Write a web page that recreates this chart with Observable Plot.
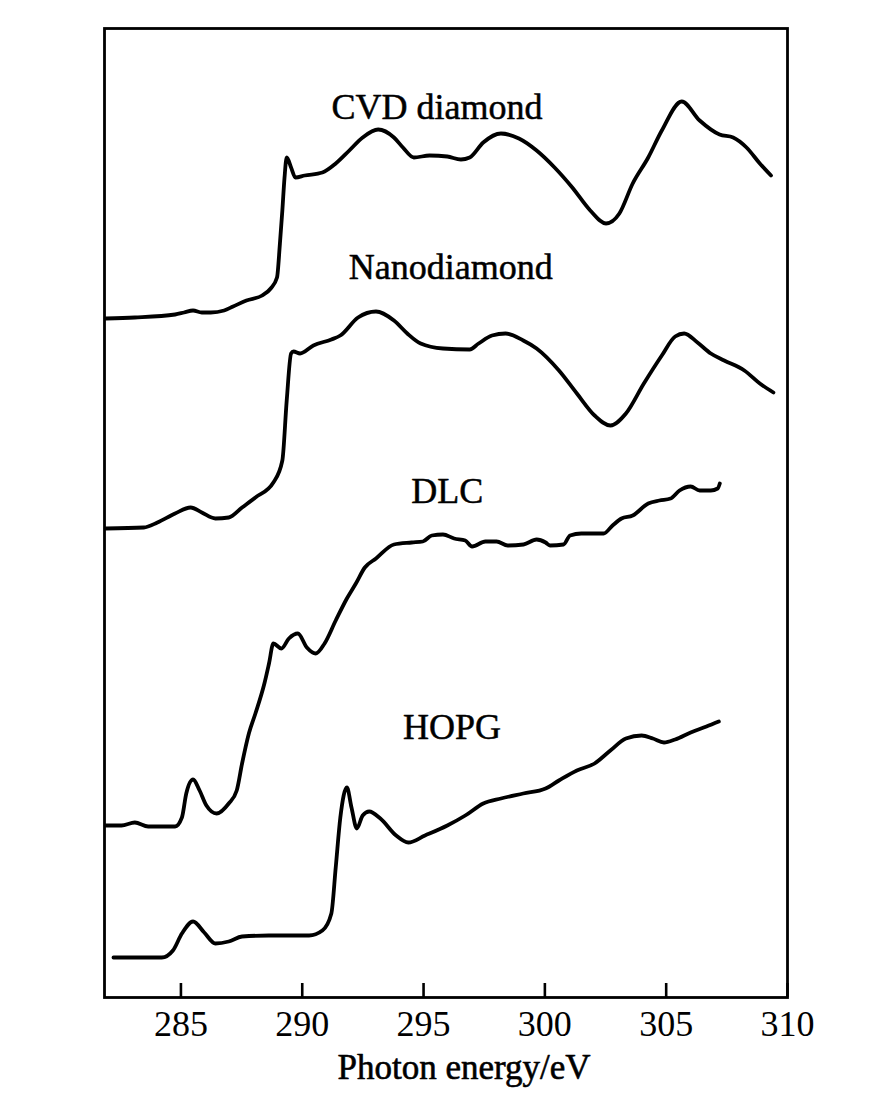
<!DOCTYPE html>
<html>
<head>
<meta charset="utf-8">
<script src="https://cdn.jsdelivr.net/npm/d3@7"></script>
<script src="https://cdn.jsdelivr.net/npm/@observablehq/plot@0.6"></script>
<style>
  html, body { margin: 0; padding: 0; background: #fff; }
  #chart { width: 895px; height: 1110px; }
</style>
</head>
<body>
<div id="chart"></div>
<script>
// x-axis tick labels (photon energy, eV)
const energyTicks = [285, 290, 295, 300, 305, 310];
const axisTitle = "Photon energy/eV";

// spectrum names
const seriesNames = ["CVD diamond", "Nanodiamond", "DLC", "HOPG"];

// CVD diamond spectrum (offset, arbitrary units)
const cvdEnergy = [281.9,283.1,284.76,285.13,285.5,285.86,286.23,286.78,287.15,287.7,288.35,288.7,288.96,289.08,289.18,289.27,289.36,289.54,289.72,290.1,290.83,291.38,291.94,292.49,293.13,293.78,294.15,294.6,295.25,295.98,296.54,296.9,297.46,298.19,298.93,299.66,300.4,301.13,301.87,302.52,303.07,303.62,304.26,304.82,305.64,306.38,307.2,307.76,308.31,308.86,309.32];
const cvdIntensity = [67.9,68.0,68.3,68.5,68.7,68.5,68.5,68.7,69.1,69.7,70.2,70.9,72.0,75.4,78.7,82.0,84.0,83.0,82.0,82.2,82.5,83.4,84.7,86.0,86.8,86.0,85.0,84.0,84.2,84.1,83.8,84.0,85.5,86.4,85.9,84.7,83.0,81.0,78.7,77.4,78.4,81.4,84.0,86.7,89.6,87.7,86.3,86.0,85.0,83.4,82.2];

// Nanodiamond spectrum
const nanoEnergy = [281.9,283.47,284.03,284.76,285.4,285.86,286.42,286.97,287.52,288.07,288.81,289.18,289.36,289.54,289.64,289.91,290.46,291.2,291.57,292.3,293.04,293.78,294.33,294.88,295.8,296.9,297.27,297.82,298.38,299.11,299.66,300.58,301.32,302.05,302.7,303.34,304.08,304.82,305.37,305.74,306.29,306.84,307.39,308.22,308.86,309.42];
const nanoIntensity = [46.9,47.0,47.5,48.4,49.0,48.5,47.9,48.0,49.0,50.0,51.5,53.7,59.7,64.4,64.6,64.4,65.2,65.8,66.2,68.0,68.6,67.7,66.4,65.4,64.9,64.8,65.4,66.2,66.4,65.7,64.9,62.7,60.4,58.2,57.2,58.4,61.4,64.2,66.1,66.4,65.5,64.4,63.7,62.7,61.4,60.5];

// DLC spectrum
const dlcEnergy = [281.9,282.55,283.1,283.65,284.76,285.04,285.22,285.5,285.77,286.05,286.47,286.97,287.3,287.52,287.8,288.07,288.44,288.63,288.81,289.14,289.45,289.82,290.19,290.56,290.92,291.38,291.84,292.21,292.58,293.04,293.78,294.51,294.97,295.34,295.8,296.26,296.72,297.0,297.55,298.01,298.47,299.12,299.66,300.03,300.21,300.77,301.04,301.5,302.42,302.79,303.16,303.62,304.26,304.72,305.18,305.55,306.01,306.38,306.84,307.12,307.21];
const dlcIntensity = [17.2,17.2,17.5,17.1,17.1,18.0,20.4,21.8,20.7,19.2,18.4,19.4,20.7,23.4,26.4,28.4,31.4,33.4,35.4,34.9,35.9,36.4,35.0,34.4,35.4,37.7,39.9,41.4,43.0,43.9,45.3,45.5,45.6,46.2,46.3,45.9,45.7,45.1,45.6,45.6,45.2,45.3,45.8,45.5,45.2,45.3,46.2,46.4,46.4,47.2,47.9,48.2,49.4,49.7,49.9,50.7,51.1,50.7,50.7,50.9,51.4];

// HOPG spectrum
const hopgEnergy = [282.22,284.21,284.67,285.04,285.5,285.96,286.42,286.97,287.52,288.62,290.28,290.83,291.2,291.38,291.57,291.84,292.03,292.25,292.49,292.76,293.22,293.87,294.37,295.06,295.98,296.72,297.46,298.19,299.11,300.03,300.58,301.32,302.05,302.7,303.34,303.99,304.45,304.91,305.37,306.01,306.66,307.17];
const hopgIntensity = [4.0,4.0,4.7,6.4,7.6,6.5,5.4,5.6,6.1,6.2,6.2,6.7,8.4,13.0,18.0,21.0,19.0,16.9,18.2,18.6,17.9,16.2,15.5,16.2,17.2,18.2,19.4,19.9,20.4,20.9,21.7,22.7,23.4,24.7,25.9,26.2,25.9,25.5,25.8,26.5,27.1,27.6];

// where each spectrum's name sits (energy, intensity of text baseline)
const labelEnergy = [295.55, 296.12, 295.98, 296.17];
const labelIntensity = [87.9, 71.9, 49.5, 25.9];

const energies = [cvdEnergy, nanoEnergy, dlcEnergy, hopgEnergy];
const intensities = [cvdIntensity, nanoIntensity, dlcIntensity, hopgIntensity];

const rows = [];
seriesNames.forEach((name, s) => {
  energies[s].forEach((e, i) => rows.push({series: name, energy: e, intensity: intensities[s][i]}));
});
const labels = seriesNames.map((name, i) => ({name, energy: labelEnergy[i], intensity: labelIntensity[i]}));

const serif = "'Liberation Serif', 'Times New Roman', serif";

const chart = Plot.plot({
  width: 895,
  height: 1110,
  marginLeft: 104,
  marginRight: 108,
  marginTop: 28,
  marginBottom: 113,
  style: {fontFamily: serif, fontSize: "35px", color: "black", background: "white"},
  x: {domain: [281.85, 310]},
  y: {domain: [0, 96.9], axis: null},
  marks: [
    Plot.frame({stroke: "black", strokeWidth: 2.8}),
    Plot.tickX(energyTicks, {x: d => d, stroke: "black", strokeWidth: 2.6, insetTop: 955}),
    Plot.axisX(energyTicks, {tickSize: 0, tickPadding: 13, fontSize: 36, fontFamily: serif, fill: "black", stroke: "black", strokeWidth: 0.6, label: null}),
    Plot.line(rows, {x: "energy", y: "intensity", z: "series", stroke: "black", strokeWidth: 3.8, curve: "monotone-x", strokeLinejoin: "round", strokeLinecap: "round"}),
    Plot.text(labels, {x: "energy", y: "intensity", text: "name", lineAnchor: "bottom", fontSize: 36, fontFamily: serif, fill: "black", stroke: "black", strokeWidth: 0.5}),
    Plot.text([axisTitle], {text: d => d, frameAnchor: "bottom", dy: 81, dx: 18, lineAnchor: "bottom", fontSize: 35, fontFamily: serif, fill: "black", stroke: "black", strokeWidth: 0.6})
  ]
});
document.getElementById("chart").appendChild(chart);
</script>
</body>
</html>
